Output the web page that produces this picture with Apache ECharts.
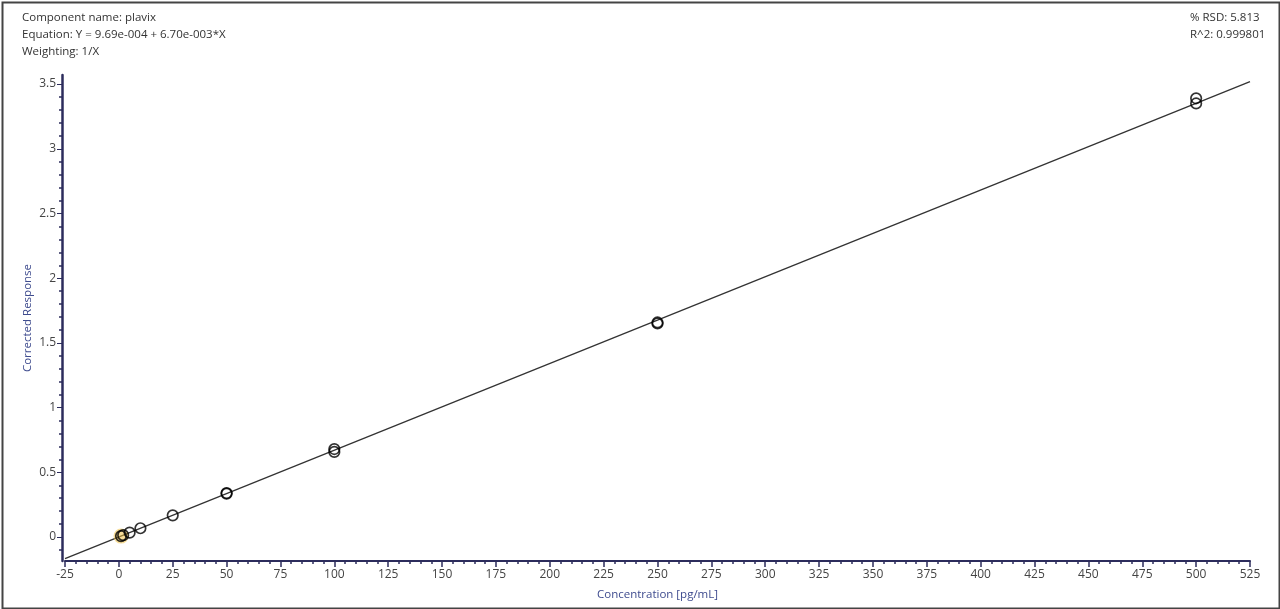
<!DOCTYPE html>
<html>
<head>
<meta charset="utf-8">
<script src="https://cdn.jsdelivr.net/npm/echarts@6/dist/echarts.min.js"></script>
<style>
html,body{margin:0;padding:0;background:#fff;}
#chart{width:1280px;height:609px;}
</style>
</head>
<body>
<div id="chart"></div>
<script>
// ---- data ----
const concentrations = [1, 2, 5, 10, 25, 50, 50, 100, 100, 250, 250, 500, 500];
const responses      = [0.0075, 0.0145, 0.034, 0.068, 0.168, 0.336, 0.340, 0.658, 0.680, 1.650, 1.658, 3.350, 3.390];
const highlightedConc = [1];
const highlightedResp = [0.0075];
const fitLineX = [-25, 525];
const fitLineY = [-0.1665, 3.5185];
const yTickLabels = [0, 0.5, 1, 1.5, 2, 2.5, 3, 3.5];
const infoLeft = ['Component name: plavix', 'Equation: Y = 9.69e-004 + 6.70e-003*X', 'Weighting: 1/X'];
const infoRight = ['% RSD: 5.813', 'R^2: 0.999801'];
const yAxisTitle = 'Corrected Response';
const xAxisTitle = 'Concentration [pg/mL]';

const pts = concentrations.map((c, i) => [c, responses[i]]);
const hl = highlightedConc.map((c, i) => [c, highlightedResp[i]]);
const fit = fitLineX.map((x, i) => [x, fitLineY[i]]);
const yMinor = [];
for (let i = -1; i <= 35; i++) { if (i % 5 !== 0) yMinor.push(i / 10); }

const FONT = 'Open Sans';
const axisColor = '#2c2c5c';
const titleColor = '#3e4b8e';
const Y_MIN = -0.185, Y_MAX = 3.57;

const chart = echarts.init(document.getElementById('chart'));
const infoGraphics = [];
infoLeft.forEach((t, i) => infoGraphics.push({type:'text', left:22, top:12 + i*17, style:{text:t, font:'11.5px "' + FONT + '"', fill:'#333'}}));
infoRight.forEach((t, i) => infoGraphics.push({type:'text', left:1190, top:12 + i*17, style:{text:t, font:'11.5px "' + FONT + '"', fill:'#333'}}));
infoGraphics.push({type:'text', x:28, y:318, rotation:Math.PI/2, style:{text:yAxisTitle, font:'11.5px "' + FONT + '"', fill:titleColor, align:'center', verticalAlign:'middle'}});
infoGraphics.push({type:'rect', left:0, top:0, shape:{x:1, y:1, width:1277, height:606}, style:{fill:'none', stroke:'#444', lineWidth:2}, silent:true});

chart.setOption({
  animation: false,
  backgroundColor: '#fff',
  grid: {left: 65, right: 30, top: 75, bottom: 48},
  xAxis: {
    type: 'value', min: -25, max: 525, interval: 25,
    name: xAxisTitle, nameLocation: 'middle', nameGap: 28,
    nameTextStyle: {color: titleColor, fontFamily: FONT, fontSize: 11.5},
    axisLine: {onZero: false, lineStyle: {color: axisColor, width: 2}},
    axisTick: {length: 6, lineStyle: {color: axisColor, width: 1.5}},
    minorTick: {show: true, splitNumber: 5, length: 3, lineStyle: {color: axisColor, width: 1.5}},
    axisLabel: {color: '#444', fontFamily: FONT, fontSize: 12, margin: 8},
    splitLine: {show: false}
  },
  yAxis: [{
    type: 'value', min: Y_MIN, max: Y_MAX, position: 'left', offset: 3,
    axisLine: {onZero: false, lineStyle: {color: axisColor, width: 2.5}},
    axisTick: {customValues: yTickLabels, length: 5, lineStyle: {color: axisColor, width: 1}},
    axisLabel: {customValues: yTickLabels, color: '#444', fontFamily: FONT, fontSize: 12, margin: 6},
    splitLine: {show: false}
  }, {
    type: 'value', min: Y_MIN, max: Y_MAX, position: 'left', offset: 3,
    axisLine: {show: false, onZero: false},
    axisTick: {customValues: yMinor, length: 3, lineStyle: {color: axisColor, width: 1.5}},
    axisLabel: {show: false},
    splitLine: {show: false}
  }],
  graphic: infoGraphics,
  series: [
    {type: 'line', data: fit, showSymbol: false, symbol: 'none', lineStyle: {color: '#333', width: 1.3}, z: 2, silent: true},
    {type: 'scatter', data: hl, symbolSize: 15, itemStyle: {color: 'rgba(240,190,60,0.65)', borderWidth: 0}, z: 3},
    {type: 'scatter', data: pts, symbolSize: 10.5, itemStyle: {color: 'rgba(0,0,0,0)', borderColor: '#000', borderWidth: 1.7}, z: 4}
  ]
});
</script>
</body>
</html>
